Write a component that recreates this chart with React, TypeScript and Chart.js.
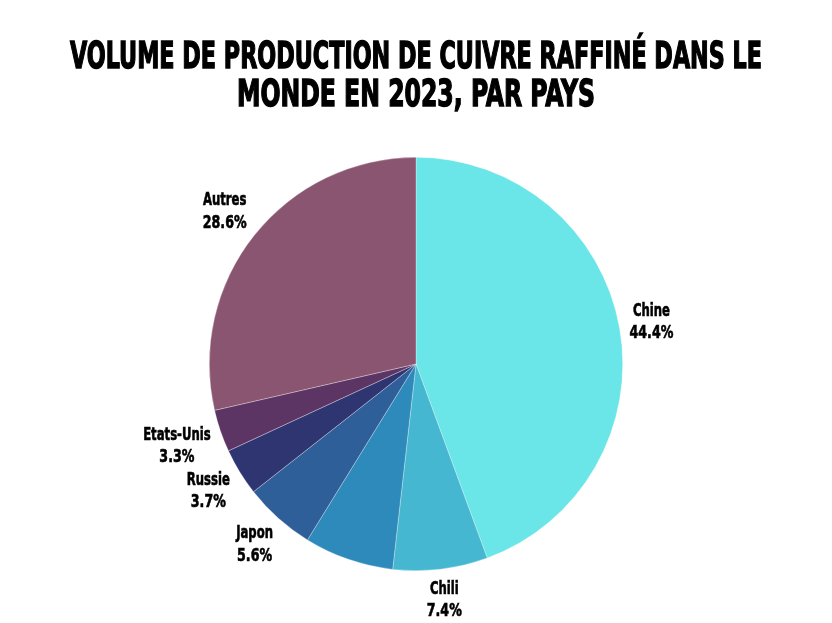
import React, { useEffect, useRef } from "react";
import { Chart, registerables } from "chart.js";

Chart.register(...registerables);

const titleLines = ["VOLUME DE PRODUCTION DE CUIVRE RAFFINÉ DANS LE", "MONDE EN 2023, PAR PAYS"];
const countries = ["Chine", "Chili", "RD Congo", "Japon", "Russie", "Etats-Unis", "Autres"];
const shares = [44.4, 7.4, 7.0, 5.6, 3.7, 3.3, 28.6];
const showLabel = [true, true, false, true, true, true, true];
const sliceColors = ["#6ae5e8", "#45b7d1", "#2e8abb", "#2e5f99", "#2f3571", "#5c3565", "#8a5570"];

const FONT_FAMILY = '"DejaVu Sans Condensed", "Liberation Sans Narrow", "Liberation Sans", sans-serif';

const titlePlugin = {
  id: "customTitle",
  afterDraw(chart: any) {
    const ctx = chart.ctx as CanvasRenderingContext2D;
    const cx = chart.width / 2;
    ctx.save();
    ctx.fillStyle = "#000";
    ctx.font = `bold 37px ${FONT_FAMILY}`;
    ctx.textAlign = "center";
    ctx.textBaseline = "alphabetic";
    const widths = [692, 358];
    const baselines = [68, 106];
    titleLines.forEach((line, i) => {
      const sx = widths[i] / ctx.measureText(line).width;
      ctx.save();
      ctx.translate(cx, baselines[i]);
      ctx.scale(sx, 1);
      ctx.fillText(line, 0, 0);
      ctx.lineWidth = 1.4;
      ctx.strokeStyle = "#000";
      ctx.strokeText(line, 0, 0);
      ctx.restore();
    });
    ctx.restore();
  },
};

const LINE_SX = [0.72, 0.78];

const labelPlugin = {
  id: "outerLabels",
  afterDatasetsDraw(chart: any) {
    const ctx = chart.ctx as CanvasRenderingContext2D;
    const meta = chart.getDatasetMeta(0);
    ctx.save();
    ctx.fillStyle = "#000";
    ctx.strokeStyle = "#000";
    ctx.lineWidth = 0.6;
    ctx.font = `bold 18px ${FONT_FAMILY}`;
    ctx.textAlign = "center";
    ctx.textBaseline = "middle";
    meta.data.forEach((arc: any, i: number) => {
      if (!showLabel[i]) return;
      const a = (arc.startAngle + arc.endAngle) / 2;
      const lines = [countries[i], shares[i].toFixed(1) + "%"];
      const halfW = Math.max(...lines.map((t, j) => ctx.measureText(t).width * LINE_SX[j])) / 2;
      const r = arc.outerRadius + 7 + halfW * Math.abs(Math.cos(a)) + 22 * Math.abs(Math.sin(a));
      const x = arc.x + Math.cos(a) * r;
      const y = arc.y + Math.sin(a) * r;
      lines.forEach((t, j) => {
        ctx.save();
        ctx.translate(x, y + (j === 0 ? -11 : 11.5));
        ctx.scale(LINE_SX[j], 1);
        ctx.fillText(t, 0, 0);
        ctx.strokeText(t, 0, 0);
        ctx.restore();
      });
    });
    ctx.restore();
  },
};

export default function App() {
  const ref = useRef<HTMLCanvasElement>(null);
  useEffect(() => {
    if (!ref.current) return;
    const chart = new Chart(ref.current, {
      type: "pie",
      data: {
        labels: countries,
        datasets: [
          {
            data: shares,
            backgroundColor: sliceColors,
            borderColor: "rgba(255,255,255,0.5)",
            borderWidth: 0.6,
          },
        ],
      },
      options: {
        animation: false,
        responsive: true,
        maintainAspectRatio: false,
        layout: { padding: { top: 157, bottom: 52, left: 0, right: 0 } },
        plugins: {
          legend: { display: false },
          title: { display: false },
          tooltip: { enabled: false },
        },
      },
      plugins: [titlePlugin, labelPlugin],
    });
    return () => chart.destroy();
  }, []);
  return (
    <div style={{ position: "fixed", left: 0, top: 0, width: 832, height: 623, background: "#fff" }}>
      <canvas ref={ref} />
    </div>
  );
}
